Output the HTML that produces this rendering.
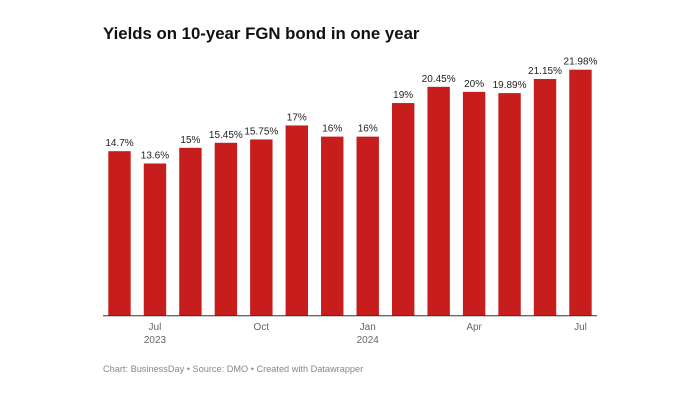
<!DOCTYPE html>
<html><head><meta charset="utf-8"><style>
body{margin:0;background:#fff;width:700px;height:400px;overflow:hidden;font-family:"Liberation Sans",sans-serif}
h1{position:absolute;left:103px;top:24px;margin:0;font-size:16.8px;font-weight:bold;color:#111}
.foot{position:absolute;left:103px;top:364px;font-size:9.2px;color:#888}
</style></head><body>
<h1>Yields on 10-year FGN bond in one year</h1>
<svg id="chart" width="700" height="400" style="position:absolute;left:0;top:0"></svg>
<div class="foot">Chart: BusinessDay • Source: DMO • Created with Datawrapper</div>
<script>
const categories=["Jun 2023","Jul 2023","Aug 2023","Sep 2023","Oct 2023","Nov 2023","Dec 2023","Jan 2024","Feb 2024","Mar 2024","Apr 2024","May 2024","Jun 2024","Jul 2024"];
const values=[14.7,13.6,15,15.45,15.75,17,16,16,19,20.45,20,19.89,21.15,21.98];
const valueLabels=["14.7%","13.6%","15%","15.45%","15.75%","17%","16%","16%","19%","20.45%","20%","19.89%","21.15%","21.98%"];
const tickIndex=[1,4,7,10,13];
const tickLine1=["Jul","Oct","Jan","Apr","Jul"];
const tickLine2=["2023","","2024","",""];
const svg=document.getElementById('chart');
const NS='http://www.w3.org/2000/svg';
const base=315.7, pxPerUnit=246/21.98, x0=108.3, step=35.46, bw=22.4;
const xScale=i=>x0+i*step;
const yScale=v=>base-v*pxPerUnit;
function mk(t,a){const e=document.createElementNS(NS,t);for(const k in a)e.setAttribute(k,a[k]);svg.appendChild(e);return e;}
values.forEach((v,i)=>{
  const r=mk('rect',{x:xScale(i),y:yScale(v),width:bw,height:base-yScale(v),fill:'#c71e1d'});
  
  
  const t=mk('text',{x:xScale(i)+bw/2,y:yScale(v)-5,'text-anchor':'middle','font-size':'10','fill':'#222','font-family':'Liberation Sans, sans-serif'});
  t.textContent=valueLabels[i];
  
  
});
const ax=mk('line',{x1:103,x2:597,y1:base,y2:base,stroke:'#333','stroke-width':1});


tickIndex.forEach((ix,k)=>{
  const cx=xScale(ix)+bw/2;
  const t=mk('text',{x:cx,y:330,'text-anchor':'middle','font-size':'10','fill':'#666','font-family':'Liberation Sans, sans-serif'});
  t.textContent=tickLine1[k];
  
  
  if(tickLine2[k]){
    const t2=mk('text',{x:cx,y:343,'text-anchor':'middle','font-size':'10','fill':'#666','font-family':'Liberation Sans, sans-serif'});
    t2.textContent=tickLine2[k];
    
    
  }
});
</script>
</body></html>
